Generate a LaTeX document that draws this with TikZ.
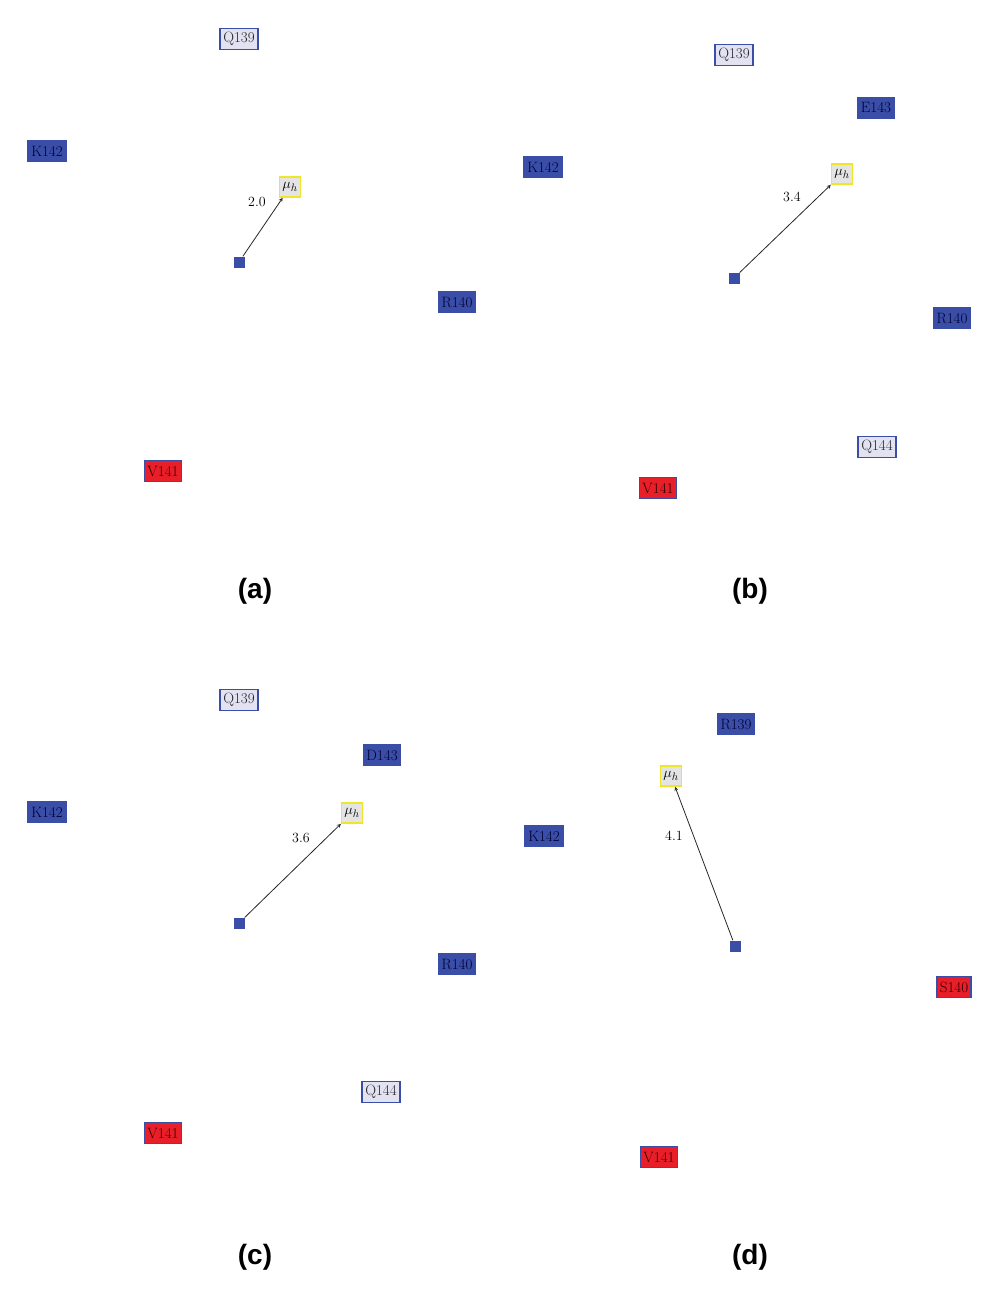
\documentclass[tikz,border=0pt]{standalone}
\usepackage{fontspec}
\newfontfamily\lab{Liberation Sans}
\definecolor{rb}{RGB}{58,78,168}
\definecolor{lt}{RGB}{226,226,242}
\definecolor{rd}{RGB}{232,30,40}
\definecolor{yl}{RGB}{240,230,40}
\definecolor{mg}{RGB}{228,228,228}
\begin{document}
\begin{tikzpicture}[x=1pt,y=-1pt,
 res/.style={draw=rb,line width=1.6pt,inner sep=3pt,minimum height=21pt,font=\fontsize{15}{17}\selectfont,text=black!85},
 light/.style={res,fill=lt},
 dark/.style={res,fill=rb,text=black!80!blue},
 redres/.style={res,fill=rd,text=black!80!red},
 mu/.style={draw=yl,line width=1.6pt,fill=mg,inner sep=3pt,minimum height=20pt,font=\fontsize{15}{17}\selectfont},
 sq/.style={fill=rb,minimum size=11pt,inner sep=0pt},
 arr/.style={->,>=stealth,line width=0.8pt,black!85},
 dist/.style={font=\fontsize{14}{16}\selectfont},
 panelcap/.style={font=\lab\bfseries\fontsize{28}{32}\selectfont}]
\useasboundingbox (0,0) rectangle (1000,1298);
% (a)
\node[light] (aQ) at (239,39) {Q139};
\node[dark] (aK) at (47,151) {K142};
\node[mu] (amu) at (290,187) {$\mu_h$};
\node[sq] (asq) at (239,262) {};
\node[dark] (aR) at (457,302) {R140};
\node[redres] (aV) at (163,471) {V141};
\draw[arr] (asq) -- (amu);
\node[dist] (ad) at (257,202) {2.0};
\node[panelcap] (la) at (255,591) {(a)};
% (b)
\node[light] (bQ) at (734,55) {Q139};
\node[dark] (bE) at (876,108) {E143};
\node[dark] (bK) at (543,167) {K142};
\node[mu] (bmu) at (842,174) {$\mu_h$};
\node[sq] (bsq) at (734,278) {};
\node[dark] (bR) at (952,318) {R140};
\node[light] (bQ2) at (877,447) {Q144};
\node[redres] (bV) at (658,488) {V141};
\draw[arr] (bsq) -- (bmu);
\node[dist] (bd) at (792,197) {3.4};
\node[panelcap] (lb) at (750,591) {(b)};
% (c)
\node[light] (cQ) at (239,700) {Q139};
\node[dark] (cD) at (382,755) {D143};
\node[dark] (cK) at (47,812) {K142};
\node[mu] (cmu) at (352,813) {$\mu_h$};
\node[sq] (csq) at (239,923) {};
\node[dark] (cR) at (457,964) {R140};
\node[light] (cQ2) at (381,1092) {Q144};
\node[redres] (cV) at (163,1133) {V141};
\draw[arr] (csq) -- (cmu);
\node[dist] (cd) at (301,838) {3.6};
\node[panelcap] (lc) at (255,1257) {(c)};
% (d)
\node[dark] (dR) at (736,724) {R139};
\node[mu] (dmu) at (671,776) {$\mu_h$};
\node[dark] (dK) at (544,836) {K142};
\node[sq] (dsq) at (735,946) {};
\node[redres] (dS) at (954,987) {S140};
\node[redres] (dV) at (659,1157) {V141};
\draw[arr] (dsq) -- (dmu);
\node[dist] (dd) at (674,836) {4.1};
\node[panelcap] (ld) at (750,1257) {(d)};
\end{tikzpicture}
\end{document}
